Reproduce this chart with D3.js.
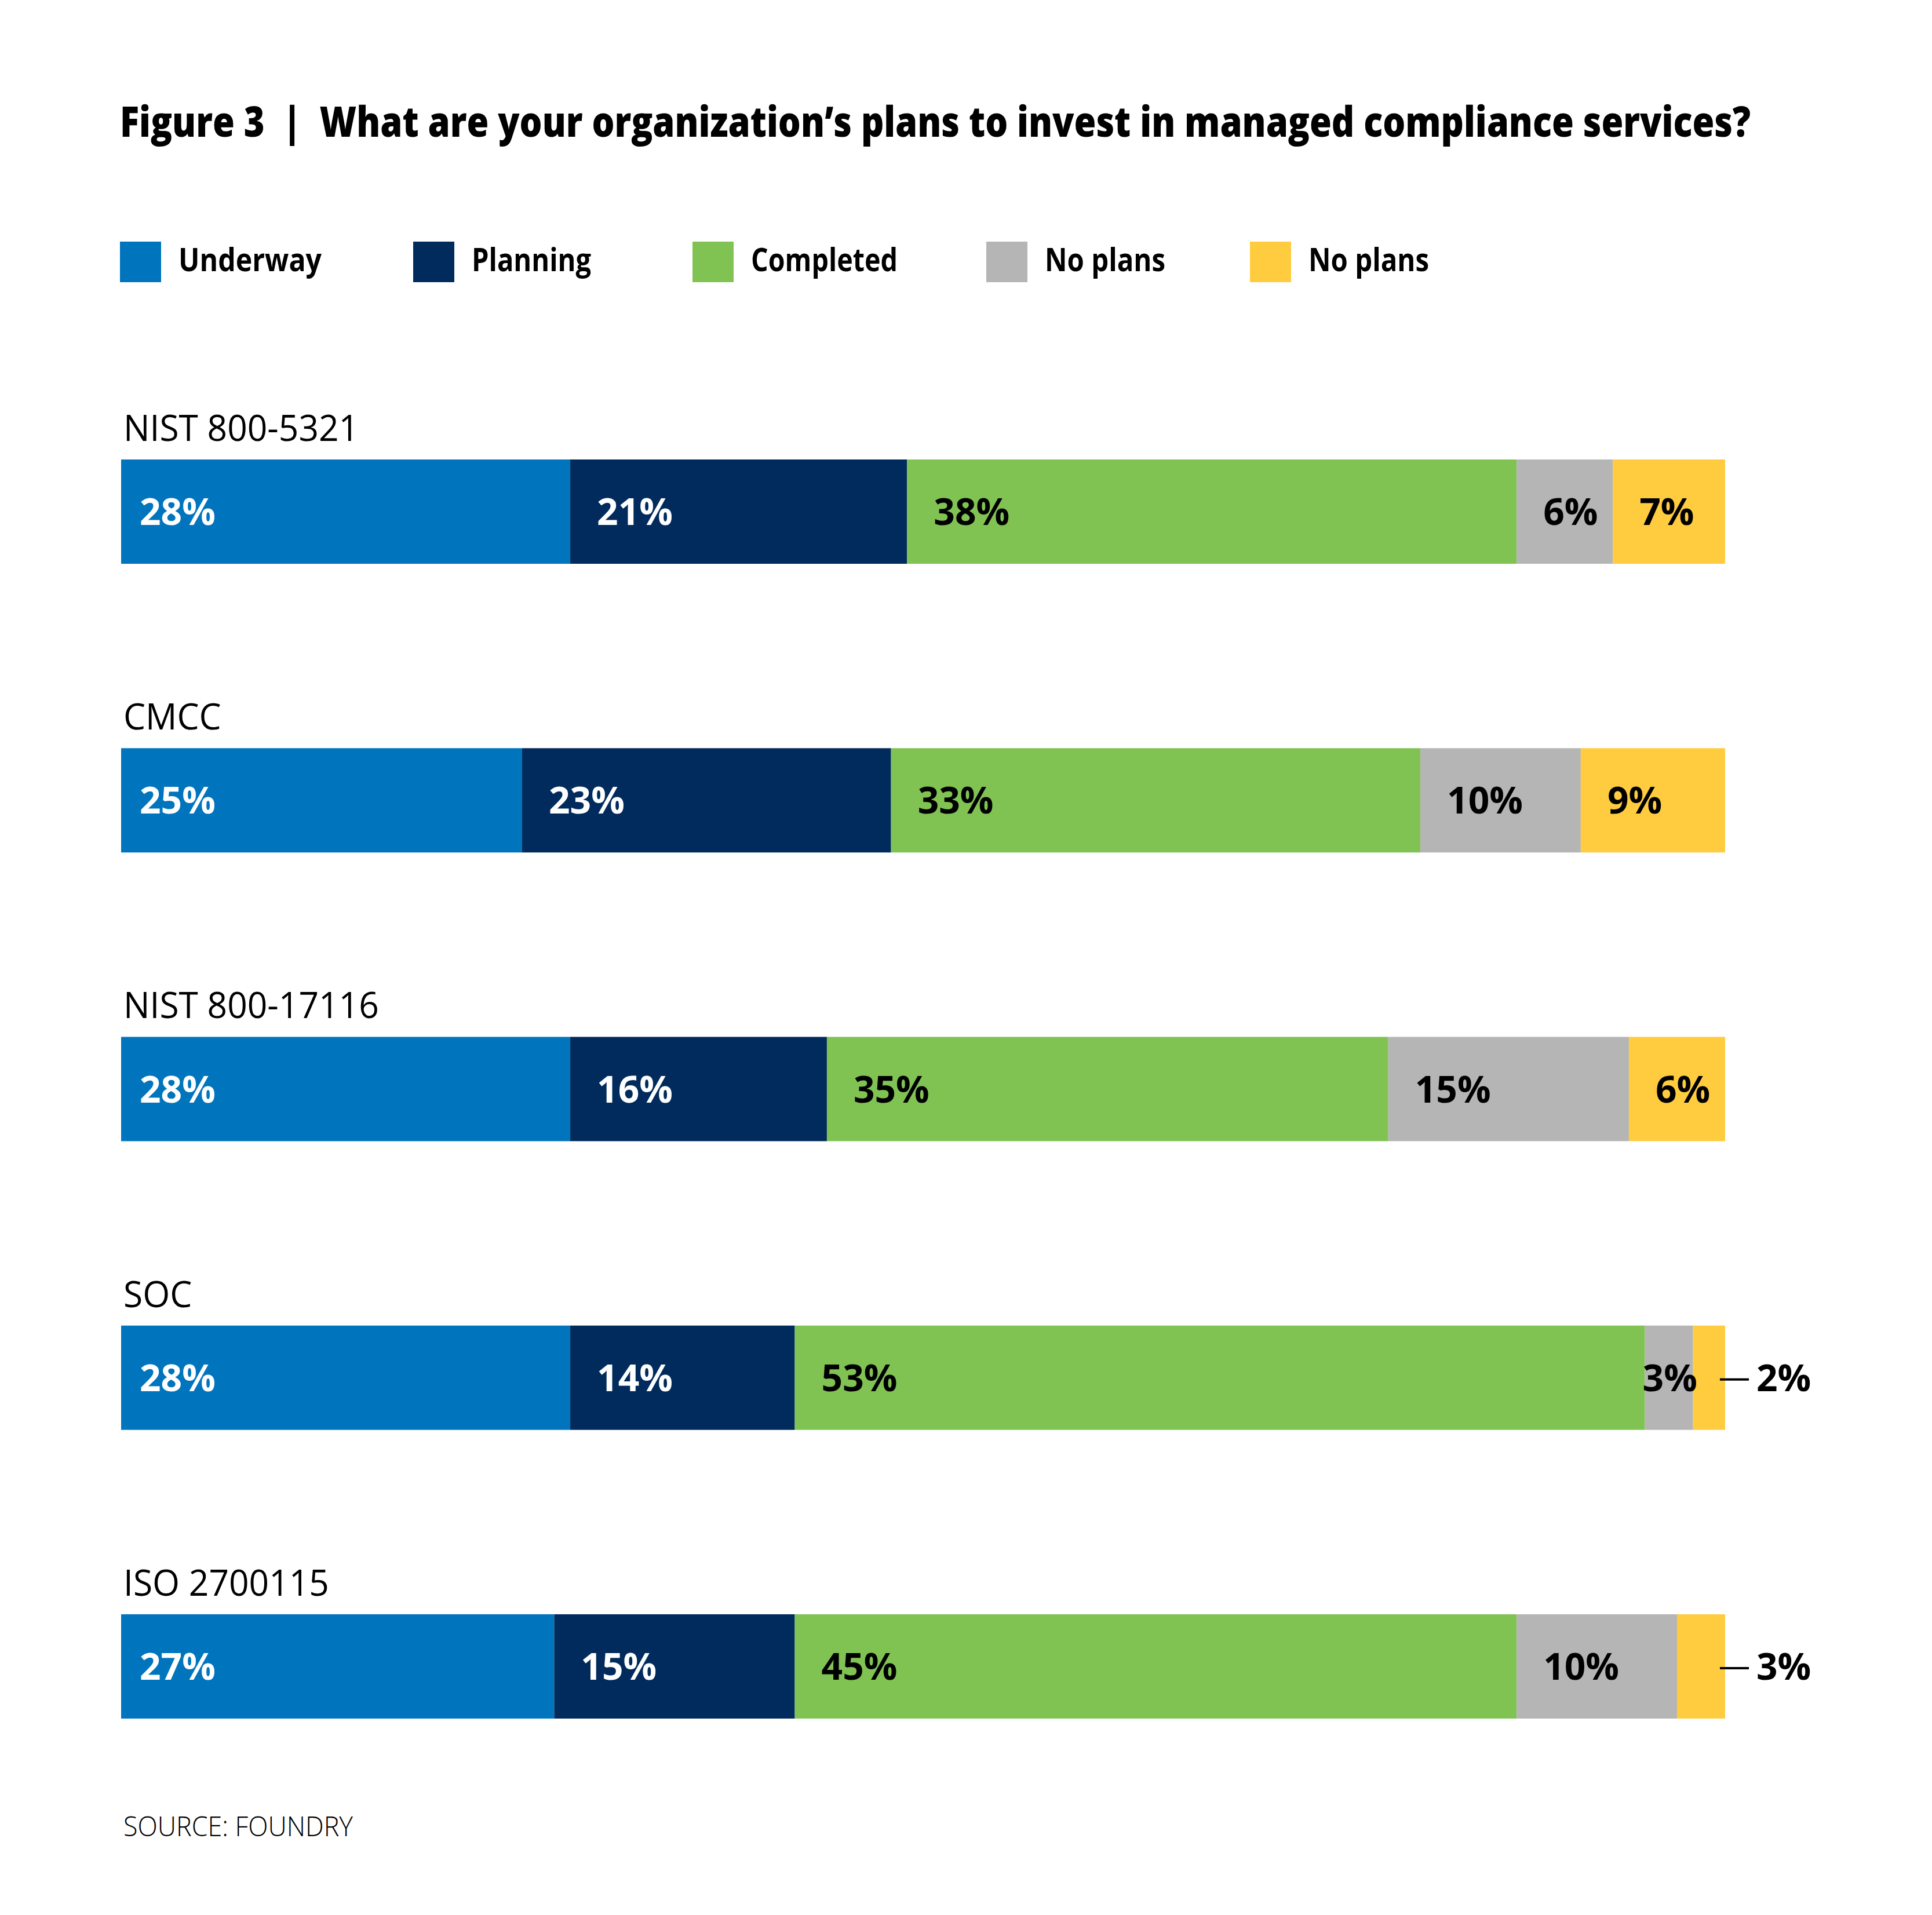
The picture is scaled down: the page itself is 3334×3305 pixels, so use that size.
<!DOCTYPE html>
<html>
<head>
<meta charset="utf-8">
<script src="https://cdn.jsdelivr.net/npm/d3@7"></script>
<style>
  html, body { margin: 0; padding: 0; background: #ffffff; }
  svg { display: block; }
  text { font-family: "Open Sans", "Noto Sans", sans-serif; }
</style>
</head>
<body>
<script>
// ---- Data ----
const categories = ["NIST 800-5321", "CMCC", "NIST 800-17116", "SOC", "ISO 2700115"];
const seriesNames = ["Underway", "Planning", "Completed", "No plans", "No plans"];
const underway      = [28, 25, 28, 28, 27];
const planning      = [21, 23, 16, 14, 15];
const completed     = [38, 33, 35, 53, 45];
const noPlansGray   = [6, 10, 15, 3, 10];
const noPlansYellow = [7, 9, 6, 2, 3];
const titleText = "Figure 3  |  What are your organization\u2019s plans to invest in managed compliance services?";
const sourceText = "SOURCE: FOUNDRY";

// ---- Styles ----
const colors = ["#0075bd", "#002b5c", "#80c353", "#b5b5b5", "#ffcc3f"];
const textColors = ["#ffffff", "#ffffff", "#000000", "#000000", "#000000"];

const W = 3334, H = 3305;
const svg = d3.select("body").append("svg").attr("width", W).attr("height", H);
svg.append("rect").attr("width", W).attr("height", H).attr("fill", "#fff");

const seriesValues = [underway, planning, completed, noPlansGray, noPlansYellow];
const rows = categories.map((c, i) => {
  const r = { category: c };
  seriesValues.forEach((s, k) => r["s" + k] = s[i]);
  return r;
});
const keys = seriesValues.map((_, k) => "s" + k);
const stacked = d3.stack().keys(keys)(rows);

const x = d3.scaleLinear().domain([0, 100]).range([209, 2977]);
const y = d3.scaleBand().domain(categories).range([793, 2966]).paddingInner(0.6387).paddingOuter(0);

// Title
svg.append("text")
  .attr("x", 207).attr("y", 236)
  .attr("font-size", 72).attr("font-weight", 800)
  .attr("textLength", 2814).attr("lengthAdjust", "spacingAndGlyphs")
  .attr("fill", "#000")
  .style("white-space", "pre")
  .text(titleText);

// Legend
const legendX = [207, 713, 1195, 1702, 2157];
const legendW = [247, 206, 253, 208, 208];
const legend = svg.append("g");
seriesNames.forEach((name, k) => {
  const g = legend.append("g").attr("transform", `translate(${legendX[k]},417)`);
  g.append("rect").attr("width", 71).attr("height", 70).attr("fill", colors[k]);
  g.append("text").attr("x", 101).attr("y", 51)
    .attr("font-size", 55).attr("font-weight", 700).attr("fill", "#000")
    .attr("textLength", legendW[k]).attr("lengthAdjust", "spacingAndGlyphs")
    .text(name);
});

// Category labels
svg.append("g").selectAll("text").data(categories).join("text")
  .attr("x", 213)
  .attr("y", d => y(d) - 32)
  .attr("font-size", 63).attr("font-weight", 400).attr("fill", "#000")
  .attr("textLength", (d) => {
    const tmp = svg.append("text").attr("font-size", 63).text(d);
    const w = tmp.node().getComputedTextLength(); tmp.remove();
    return w * 0.96;
  })
  .attr("lengthAdjust", "spacingAndGlyphs")
  .text(d => d);

// Bars
const layers = svg.append("g").selectAll("g").data(stacked).join("g")
  .attr("fill", (d, k) => colors[k]);
layers.selectAll("rect").data(d => d).join("rect")
  .attr("x", d => x(d[0]))
  .attr("y", d => y(d.data.category))
  .attr("width", d => x(d[1]) - x(d[0]))
  .attr("height", y.bandwidth());

// Value labels
const labelG = svg.append("g");
stacked.forEach((layer, k) => {
  layer.forEach(d => {
    const v = d[1] - d[0];
    const cy = y(d.data.category) + y.bandwidth() / 2;
    const last = k === stacked.length - 1;
    let tx, fill = textColors[k];
    if (last && v <= 3) {
      labelG.append("line")
        .attr("x1", x(d[1]) - 9).attr("x2", x(d[1]) + 41)
        .attr("y1", cy + 3).attr("y2", cy + 3)
        .attr("stroke", "#000").attr("stroke-width", 4);
      tx = x(d[1]) + 54;
      fill = "#000";
    } else if (v <= 3) {
      tx = x(d[0]) - 4;
    } else {
      tx = x(d[0]) + (k === 0 ? 32 : 46);
    }
    labelG.append("text")
      .attr("x", tx).attr("y", cy + 23)
      .attr("font-size", 64).attr("font-weight", 700).attr("fill", fill)
      .text(v + "%");
  });
});

// Source
svg.append("text")
  .attr("x", 213).attr("y", 3169)
  .attr("font-size", 47).attr("font-weight", 300).attr("fill", "#000")
  .attr("textLength", 396).attr("lengthAdjust", "spacingAndGlyphs")
  .text(sourceText);
</script>
</body>
</html>
